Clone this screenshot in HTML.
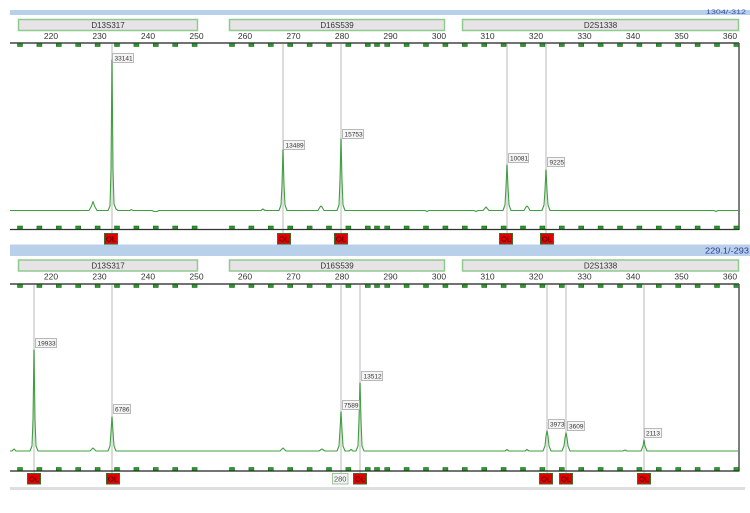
<!DOCTYPE html>
<html><head><meta charset="utf-8">
<style>
html,body{margin:0;padding:0;background:#fff;}
svg{display:block;}
text{font-family:"Liberation Sans",sans-serif;}
</style></head>
<body>
<svg width="750" height="513" viewBox="0 0 750 513" xmlns="http://www.w3.org/2000/svg">
<rect width="750" height="513" fill="#fff"/>
<defs>
<g id="sqTop">
<rect x="17.5" y="0" width="5" height="3"/><rect x="36.9" y="0" width="5" height="3"/><rect x="56.3" y="0" width="5" height="3"/><rect x="75.7" y="0" width="5" height="3"/><rect x="95.1" y="0" width="5" height="3"/><rect x="114.5" y="0" width="5" height="3"/><rect x="133.9" y="0" width="5" height="3"/><rect x="153.3" y="0" width="5" height="3"/><rect x="172.7" y="0" width="5" height="3"/><rect x="192.1" y="0" width="5" height="3"/>
<rect x="229.5" y="0" width="5" height="3"/><rect x="248.9" y="0" width="5" height="3"/><rect x="268.3" y="0" width="5" height="3"/><rect x="287.7" y="0" width="5" height="3"/><rect x="307.1" y="0" width="5" height="3"/><rect x="326.5" y="0" width="5" height="3"/><rect x="345.9" y="0" width="5" height="3"/><rect x="365.3" y="0" width="5" height="3"/><rect x="374.5" y="0" width="5" height="3"/><rect x="384.7" y="0" width="5" height="3"/><rect x="404.1" y="0" width="5" height="3"/><rect x="423.5" y="0" width="5" height="3"/><rect x="442.9" y="0" width="5" height="3"/>
<rect x="462.3" y="0" width="5" height="3"/><rect x="481.7" y="0" width="5" height="3"/><rect x="501.1" y="0" width="5" height="3"/><rect x="520.5" y="0" width="5" height="3"/><rect x="539.9" y="0" width="5" height="3"/><rect x="559.3" y="0" width="5" height="3"/><rect x="578.7" y="0" width="5" height="3"/><rect x="598.1" y="0" width="5" height="3"/><rect x="617.5" y="0" width="5" height="3"/><rect x="636.9" y="0" width="5" height="3"/><rect x="656.3" y="0" width="5" height="3"/><rect x="675.7" y="0" width="5" height="3"/><rect x="695.1" y="0" width="5" height="3"/><rect x="714.5" y="0" width="5" height="3"/><rect x="733.9" y="0" width="5" height="3"/>
</g>
<g id="axisLabels" font-size="8.5" fill="#333" text-anchor="middle">
<text x="51">220</text><text x="99.5">230</text><text x="148">240</text><text x="196.5">250</text><text x="245">260</text><text x="293.5">270</text><text x="342">280</text><text x="390.5">290</text><text x="439">300</text><text x="487.5">310</text><text x="536">320</text><text x="584.5">330</text><text x="633">340</text><text x="681.5">350</text><text x="730">360</text>
</g>
<g id="markers">
<rect x="18.5" y="0.5" width="179" height="11" fill="#e7e3e7" stroke="#8fca8f" stroke-width="1.5"/>
<rect x="229.5" y="0.5" width="215" height="11" fill="#e7e3e7" stroke="#8fca8f" stroke-width="1.5"/>
<rect x="462.5" y="0.5" width="276" height="11" fill="#e7e3e7" stroke="#8fca8f" stroke-width="1.5"/>
<g font-size="8" fill="#333" text-anchor="middle">
<text x="108" y="9">D13S317</text><text x="337" y="9">D16S539</text><text x="600.5" y="9">D2S1338</text>
</g>
</g>
</defs>

<!-- top blue bar -->
<rect x="10" y="10" width="740" height="5" fill="#b9d0ea"/>
<text x="706" y="14" font-size="6" fill="#3550a5" textLength="40" lengthAdjust="spacingAndGlyphs">1304/-312</text>

<!-- TOP PANEL -->
<use href="#markers" transform="translate(0,19)"/>
<use href="#axisLabels" transform="translate(0,39)"/>
<!-- gray peak lines -->
<g stroke="#dcdcdc" stroke-width="2">
<line x1="112" y1="44" x2="112" y2="233"/><line x1="283" y1="44" x2="283" y2="233"/><line x1="341" y1="44" x2="341" y2="233"/><line x1="507" y1="44" x2="507" y2="233"/><line x1="546" y1="44" x2="546" y2="233"/>
</g>
<line x1="10" y1="43" x2="739" y2="43" stroke="#444" stroke-width="1.5"/>
<use href="#sqTop" transform="translate(0,43.5)" fill="#2a9a2a" stroke="#145214" stroke-width="0.5"/>
<line x1="739" y1="43" x2="739" y2="229.5" stroke="#555" stroke-width="1.5"/>
<line x1="10" y1="229.5" x2="739.5" y2="229.5" stroke="#333" stroke-width="1.3"/>
<use href="#sqTop" transform="translate(0,226)" fill="#2a9a2a" stroke="#145214" stroke-width="0.5"/>
<!-- top trace -->
<path fill="none" stroke="#3f9f3f" stroke-width="1.1" stroke-linejoin="round" d="M10,210.5 L89,210.5 L91.5,206 L93,201.5 L94.5,206 L97,210.5 L108,210.5 L110,206 L111,170 L112,60 L113,170 L114,204 L116,209 L118,210.5 L130,210.5 L131,209.5 L133,210.5 L152,210.5 L154,211.5 L157,211.5 L159,210.5 L261,210.5 L263,209 L265,210.5 L279,210.5 L281,205 L282,185 L283,150 L284,185 L285,205 L287,210.5 L318,210.5 L320,207 L321,206 L322,207 L324,210.5 L337,210.5 L339,205 L340,180 L341,139 L342,180 L343,205 L345,210.5 L425,210.5 L427,211.5 L429,210.5 L474,210.5 L476,211.5 L478,210.5 L483,210.5 L486,207 L489,210.5 L503,210.5 L505,205 L506,187 L507,165 L508,187 L509,205 L511,210.5 L524,210.5 L526,207 L527,206 L528,207 L530,210.5 L542,210.5 L544,205 L545,190 L546,170 L547,190 L548,205 L550,210.5 L714,210.5 L716,211.5 L718,210.5 L738,210.5"/>
<!-- top peak labels -->
<g fill="#f5f5f5" stroke="#a8a8a8" stroke-width="0.8">
<rect x="112.5" y="53.5" width="21" height="9"/><rect x="283.5" y="140.5" width="21" height="9"/><rect x="342.5" y="129.5" width="21" height="9"/><rect x="508.5" y="153.5" width="20" height="9"/><rect x="547.5" y="157.5" width="17" height="9"/>
</g>
<g font-size="6.5" fill="#333">
<text x="114.5" y="60.5">33141</text><text x="285.5" y="147.5">13489</text><text x="344.5" y="136.5">15753</text><text x="510" y="160.5">10081</text><text x="549.5" y="164.5">9225</text>
</g>
<!-- top OL -->
<g fill="#e50000" stroke="#3f6a2a" stroke-width="1">
<rect x="104.5" y="233.5" width="13" height="10.5"/><rect x="277.5" y="233.5" width="13" height="10.5"/><rect x="334.5" y="233.5" width="13" height="10.5"/><rect x="499.5" y="233.5" width="13" height="10.5"/><rect x="540.5" y="233.5" width="13" height="10.5"/>
</g>
<g font-size="7.5" fill="#3a0000" text-anchor="middle">
<text x="111" y="241.5">OL</text><text x="284" y="241.5">OL</text><text x="341" y="241.5">OL</text><text x="506" y="241.5">OL</text><text x="547" y="241.5">OL</text>
</g>

<!-- second blue bar -->
<rect x="10" y="244.5" width="740" height="11.5" fill="#b9d0ea"/>
<text x="705" y="253.5" font-size="8.5" fill="#2a3a9a" textLength="44" lengthAdjust="spacingAndGlyphs">229.1/-293</text>

<!-- BOTTOM PANEL -->
<use href="#markers" transform="translate(0,259.5)"/>
<use href="#axisLabels" transform="translate(0,279.5)"/>
<g stroke="#dcdcdc" stroke-width="2">
<line x1="34" y1="285" x2="34" y2="474"/><line x1="112" y1="285" x2="112" y2="474"/><line x1="341" y1="285" x2="341" y2="474"/><line x1="360" y1="285" x2="360" y2="474"/><line x1="547" y1="285" x2="547" y2="474"/><line x1="566" y1="285" x2="566" y2="474"/><line x1="644" y1="285" x2="644" y2="474"/>
</g>
<line x1="10" y1="284" x2="739" y2="284" stroke="#444" stroke-width="1.5"/>
<use href="#sqTop" transform="translate(0,284.5)" fill="#2a9a2a" stroke="#145214" stroke-width="0.5"/>
<line x1="739" y1="284" x2="739" y2="471" stroke="#555" stroke-width="1.5"/>
<line x1="10" y1="471" x2="739.5" y2="471" stroke="#222" stroke-width="1.3"/>
<use href="#sqTop" transform="translate(0,467.5)" fill="#2a9a2a" stroke="#145214" stroke-width="0.5"/>
<!-- bottom trace -->
<path fill="none" stroke="#3f9f3f" stroke-width="1.1" stroke-linejoin="round" d="M10,451 L12,451 L14,449 L16,451 L30,451 L32,446 L33,420 L34,350 L35,420 L36,446 L38,451 L90,451 L93,448 L96,451 L108,451 L110,446 L111,432 L112,417 L113,432 L114,446 L116,451 L280,451 L283,448 L286,451 L319,451 L322,449 L325,451 L337,451 L339,446 L340,430 L341,412 L342,430 L343,446 L345,451 L349,451 L351,449.5 L353,451 L356,451 L358,446 L359,420 L360,383 L361,420 L362,446 L364,451 L505,451 L507,449.5 L509,451 L525,451 L527,449.5 L529,451 L543,451 L545,446 L546,436 L547,431 L548,436 L549,446 L551,451 L562,451 L564,446 L565,438 L566,433 L567,438 L568,446 L570,451 L623,451 L625,450 L627,451 L641,451 L643,446 L644,440 L645,446 L647,451 L738,451"/>
<g fill="#f5f5f5" stroke="#a8a8a8" stroke-width="0.8">
<rect x="35.5" y="338.5" width="21" height="9"/><rect x="113.5" y="404.5" width="17" height="9"/><rect x="342.5" y="400.5" width="17" height="9"/><rect x="361.5" y="371.5" width="21" height="9"/><rect x="548.5" y="419.5" width="16" height="9"/><rect x="567.5" y="421.5" width="17" height="9"/><rect x="644.5" y="428.5" width="17" height="9"/>
</g>
<g font-size="6.5" fill="#333">
<text x="37.5" y="345.5">19933</text><text x="115" y="411.5">6786</text><text x="344" y="407.5">7589</text><text x="363.5" y="378.5">13512</text><text x="550" y="426.5">3973</text><text x="569" y="428.5">3609</text><text x="646" y="435.5">2113</text>
</g>
<g fill="#e50000" stroke="#3f6a2a" stroke-width="1">
<rect x="27.5" y="473.5" width="13" height="10.5"/><rect x="106.5" y="473.5" width="13" height="10.5"/><rect x="353.5" y="473.5" width="13" height="10.5"/><rect x="539.5" y="473.5" width="13" height="10.5"/><rect x="559.5" y="473.5" width="13" height="10.5"/><rect x="637.5" y="473.5" width="13" height="10.5"/>
</g>
<rect x="332.5" y="473.5" width="15.5" height="10.5" fill="#f3f3f3" stroke="#9cc89c" stroke-width="1"/>
<g font-size="7.5" fill="#3a0000" text-anchor="middle">
<text x="34" y="481.5">OL</text><text x="113" y="481.5">OL</text><text x="360" y="481.5">OL</text><text x="546" y="481.5">OL</text><text x="566" y="481.5">OL</text><text x="644" y="481.5">OL</text>
</g>
<text x="340.2" y="481.5" font-size="7.5" fill="#555" text-anchor="middle">280</text>

<!-- bottom gray line -->
<rect x="10" y="487" width="735" height="3" fill="#dedede"/>
</svg>
</body></html>
